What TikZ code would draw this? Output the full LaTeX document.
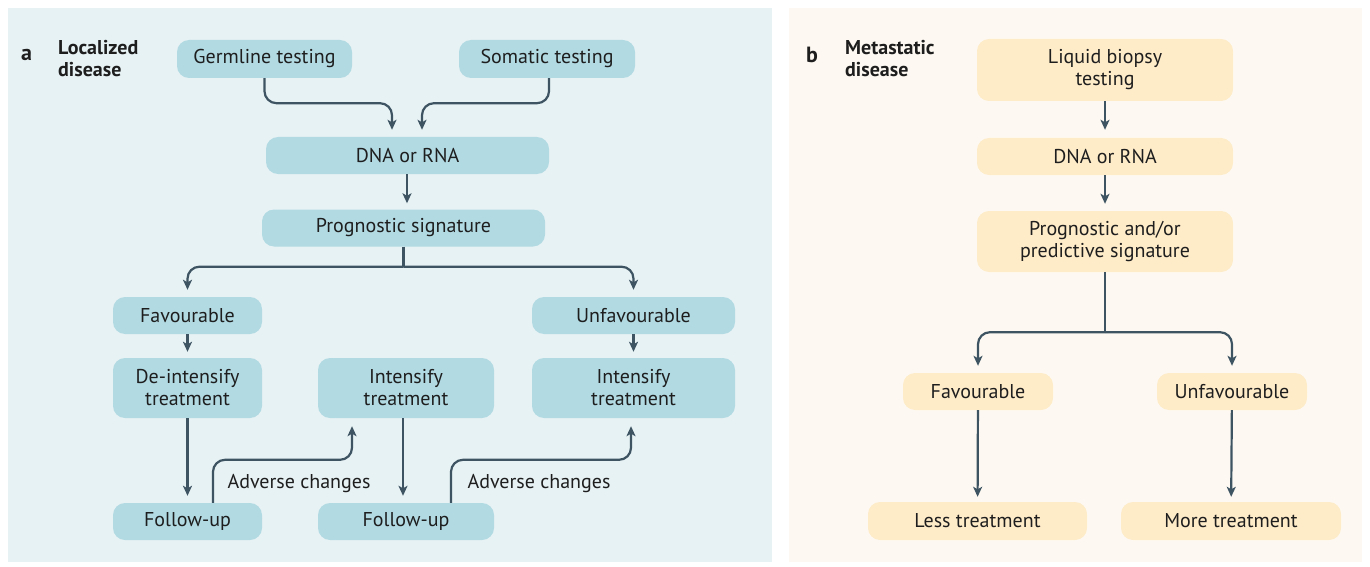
\documentclass[tikz,border=0pt]{standalone}
\usepackage{fontspec}
\setmainfont{PT Sans}
\usetikzlibrary{arrows.meta,positioning,calc}
\definecolor{bgblue}{HTML}{E7F2F4}
\definecolor{bgcream}{HTML}{FDF9F2}
\definecolor{boxblue}{HTML}{B1DAE3}
\definecolor{boxcream}{HTML}{FEEBC8}
\definecolor{linkgrey}{HTML}{3E5463}
\definecolor{ink}{HTML}{1E1E1E}
\newcommand\boxfont{\fontsize{20}{22}\selectfont}
\tikzset{
  >=Stealth,
  boxA/.style={rectangle, rounded corners=12pt, fill=boxblue, align=center, inner sep=0pt, text=ink, font=\boxfont},
  boxB/.style={boxA, fill=boxcream},
  conn/.style={-{Stealth[length=10pt,width=9pt,inset=2.5pt]}, line width=2.2pt, draw=linkgrey, rounded corners=12pt},
  stem/.style={line width=2.2pt, draw=linkgrey},
  lbl/.style={font=\boxfont, text=ink},
  head/.style={font=\boxfont\bfseries, text=ink, align=left, inner sep=0pt}
}

\begin{document}
\begin{tikzpicture}[x=1pt, y=-1pt]
                % --- Canvas ---
                \useasboundingbox (0,0) rectangle (1370,567);
                \fill[bgblue] (8,8) rectangle (772,562);
                \fill[bgcream] (789,8) rectangle (1362,562);

                % --- Panel a: localized disease ---
                \node[head, anchor=west, font=\fontsize{22}{24}\selectfont\bfseries] (tagA) at (21,55) {a};
                \node[head, anchor=north west] (titleA) at (58,40) {Localized\\disease};

                \node[boxA, minimum width=175pt, minimum height=38pt] (germ) at (264.5,59) {Germline testing};
                \node[boxA, minimum width=176pt, minimum height=38pt] (soma) at (547,59) {Somatic testing};
                \node[boxA, minimum width=283pt, minimum height=37pt] (dnaA) at (407.5,155.5) {DNA or RNA};
                \node[boxA, minimum width=283pt, minimum height=37pt] (progA) at (403.5,228) {Prognostic signature};
                \node[boxA, minimum width=149pt, minimum height=37pt] (favA) at (187.5,315.5) {Favourable};
                \node[boxA, minimum width=203pt, minimum height=37pt] (unfavA) at (633.5,315.5) {Unfavourable};
                \node[boxA, minimum width=149pt, minimum height=60pt] (deint) at (187.5,388) {De-intensify\\treatment};
                \node[boxA, minimum width=176pt, minimum height=60pt] (intMid) at (406,388) {Intensify\\treatment};
                \node[boxA, minimum width=203pt, minimum height=60pt] (intRight) at (633.5,388) {Intensify\\treatment};
                \node[boxA, minimum width=149pt, minimum height=37pt] (fupLeft) at (187.5,521.5) {Follow-up};
                \node[boxA, minimum width=176pt, minimum height=37pt] (fupMid) at (406,521.5) {Follow-up};
                \node[lbl] (advLeft) at (299,484) {Adverse changes};
                \node[lbl] (advMid) at (539,484) {Adverse changes};

                % --- Panel a: connectors ---
                \coordinate (splitA) at ($(progA.south)+(0,20)$);
                \draw[conn, shorten >=7pt] (germ.south) -- ++(0,25) -| ([xshift=-15.5pt]dnaA.north);
                \draw[conn, shorten >=7pt] ([xshift=2pt]soma.south) -- ++(0,25) -| ([xshift=14.5pt]dnaA.north);
                \draw[conn, shorten >=6pt] ([xshift=-0.5pt]dnaA.south) -- ([xshift=3.5pt]progA.north);
                \draw[stem] (progA.south) -- (splitA);
                \draw[conn, shorten >=7pt] (splitA) -| (favA.north);
                \draw[conn, shorten >=7pt] (splitA) -| (unfavA.north);
                \draw[conn, shorten >=6pt] (favA) -- (deint);
                \draw[conn, shorten >=6pt] (unfavA) -- (intRight);
                \draw[conn, shorten >=7pt] (deint) -- (fupLeft);
                \draw[conn, shorten >=7pt] ([xshift=-3pt]intMid.south) -- ([xshift=-3pt]fupMid.north);
                \draw[conn, shorten >=8pt] ([xshift=25.5pt]fupLeft.north) -- ++(0,-43) -| ([xshift=-54pt]intMid.south);
                \draw[conn, shorten >=8pt] ([xshift=45pt]fupMid.north) -- ++(0,-43) -| ([xshift=-2.5pt]intRight.south);

                % --- Panel b: metastatic disease ---
                \node[head, anchor=west, font=\fontsize{22}{24}\selectfont\bfseries] (tagB) at (806,55) {b};
                \node[head, anchor=north west] (titleB) at (845,40) {Metastatic\\disease};

                \node[boxB, minimum width=256pt, minimum height=62pt] (liquid) at (1105,70) {Liquid biopsy\\testing};
                \node[boxB, minimum width=256pt, minimum height=37pt] (dnaB) at (1105,156.5) {DNA or RNA};
                \node[boxB, minimum width=256pt, minimum height=61pt] (progB) at (1105,241.5) {Prognostic and/or\\predictive signature};
                \node[boxB, minimum width=150pt, minimum height=37pt] (favB) at (978,391.5) {Favourable};
                \node[boxB, minimum width=150pt, minimum height=37pt] (unfavB) at (1232,391.5) {Unfavourable};
                \node[boxB, minimum width=219pt, minimum height=38pt] (less) at (977.5,521) {Less treatment};
                \node[boxB, minimum width=220pt, minimum height=38pt] (more) at (1231,521) {More treatment};

                % --- Panel b: connectors ---
                \coordinate (splitB) at ($(progB.south)+(0,60)$);
                \draw[conn, shorten >=8pt] (liquid) -- (dnaB);
                \draw[conn, shorten >=7pt] (dnaB) -- (progB);
                \draw[stem] (progB.south) -- (splitB);
                \draw[conn, shorten >=7pt] (splitB) -| (favB.north);
                \draw[conn, shorten >=7pt] (splitB) -| (unfavB.north);
                \draw[conn, shorten >=5pt] (favB) -- (less);
                \draw[conn, shorten >=5pt] (unfavB) -- (more);
\end{tikzpicture}
\end{document}
